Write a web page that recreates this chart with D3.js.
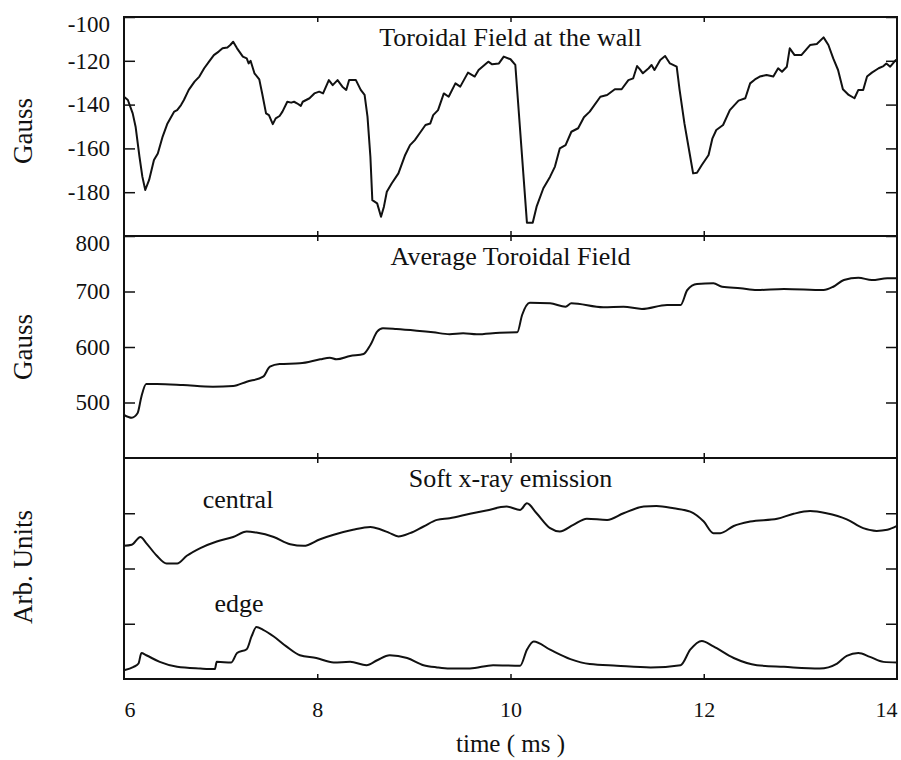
<!DOCTYPE html>
<html>
<head>
<meta charset="utf-8">
<script src="https://cdn.jsdelivr.net/npm/d3@7"></script>
<style>
  body { margin: 0; background: #fff; }
  svg text { font-family: "Liberation Serif", "DejaVu Serif", serif; fill: #111; }
  .frame { fill: none; stroke: #111; stroke-width: 2; }
  .trace { fill: none; stroke: #111; stroke-width: 2; stroke-linejoin: round; }
  .axis line { stroke: #111; stroke-width: 1.5; }
</style>
</head>
<body>
<svg class="chart"></svg>
<script>
var WIDTH = 901;
var HEIGHT = 760;

var LEFT = 124;
var RIGHT = 897;

// time axis (ms)
var timeTicks = [8, 10, 12];
var timeLabels = [6, 8, 10, 12, 14];

// Toroidal Field at the wall (Gauss)
var wallTime = [6.00, 6.04, 6.09, 6.12, 6.16, 6.19, 6.22, 6.26, 6.31, 6.35,
  6.40, 6.45, 6.52, 6.55, 6.59, 6.62, 6.67, 6.73, 6.78, 6.83,
  6.88, 6.93, 6.98, 7.02, 7.07, 7.10, 7.13, 7.17, 7.23, 7.27,
  7.29, 7.31, 7.35, 7.40, 7.43, 7.47, 7.50, 7.54, 7.57, 7.61,
  7.64, 7.69, 7.73, 7.76, 7.79, 7.83, 7.85, 7.92, 7.97, 8.02,
  8.06, 8.12, 8.16, 8.21, 8.26, 8.30, 8.33, 8.40, 8.45, 8.49,
  8.52, 8.55, 8.57, 8.62, 8.66, 8.69, 8.72, 8.77, 8.84, 8.91,
  8.96, 9.01, 9.06, 9.12, 9.17, 9.20, 9.25, 9.31, 9.36, 9.43,
  9.48, 9.56, 9.63, 9.67, 9.77, 9.81, 9.88, 9.93, 10.00, 10.05,
  10.17, 10.23, 10.27, 10.34, 10.41, 10.46, 10.51, 10.57, 10.63, 10.70,
  10.76, 10.82, 10.93, 11.00, 11.08, 11.15, 11.22, 11.27, 11.31, 11.34,
  11.37, 11.43, 11.46, 11.49, 11.55, 11.60, 11.65, 11.72, 11.75, 11.80,
  11.86, 11.89, 11.93, 11.98, 12.05, 12.09, 12.13, 12.20, 12.27, 12.36,
  12.43, 12.48, 12.53, 12.58, 12.65, 12.72, 12.77, 12.81, 12.86, 12.89,
  12.94, 13.01, 13.10, 13.17, 13.24, 13.29, 13.34, 13.39, 13.44, 13.50,
  13.56, 13.60, 13.65, 13.69, 13.74, 13.81, 13.86, 13.89, 13.93, 13.98,
  14.00];
var wallGauss = [-136.4, -137.9, -144, -150.1, -163.8, -172.9, -179, -174.4, -165.3, -162.3,
  -154.6, -148.6, -143.2, -142.5, -140.2, -137.9, -133.3, -129.5, -127.2, -123.4,
  -120.4, -117.4, -115.8, -114.3, -113.9, -112.8, -111.3, -114.3, -118.1, -118.9,
  -121.2, -120, -125.7, -128.5, -134.9, -144, -144.8, -148.9, -146.3, -145.2,
  -143.2, -138.7, -139.1, -138.7, -139.4, -140.6, -138.7, -137.1, -134.9, -134.1,
  -134.9, -128.8, -131.1, -128.8, -131.8, -133.3, -128.8, -128.8, -133.3, -135.6,
  -145.5, -163.8, -183.6, -185.1, -191.2, -186.6, -179.8, -176, -171.4, -163,
  -158.5, -156.2, -153.1, -149.3, -148.6, -144.8, -142.5, -134.9, -136.4, -130.3,
  -131.8, -125.4, -127.2, -124.2, -120.4, -121.6, -121.2, -118.1, -119.3, -121.9,
  -193.9, -193.9, -186.6, -178.2, -172.9, -168.3, -160, -158.5, -152.4, -150.8,
  -145.8, -143.2, -136.4, -135.6, -133, -133, -128.8, -128, -122.4, -123.9,
  -125.7, -123.4, -121.9, -124.2, -119.6, -117.8, -121.2, -122.7, -133.3, -148.6,
  -163.8, -171.4, -171.1, -167.6, -163, -155.4, -151.6, -149.3, -142.5, -138.2,
  -137.1, -130.3, -128.5, -127.2, -126.5, -127.2, -123.4, -125, -122.7, -114.3,
  -117.4, -117.4, -112.8, -112.3, -109.3, -112.8, -118.9, -124.2, -133, -135.6,
  -137.1, -133.3, -133.3, -127.2, -125.4, -123.4, -122.4, -121.2, -122.7, -120,
  -119.3];
var wallTicks = [-100, -120, -140, -160, -180];

// Average Toroidal Field (Gauss)
var avgTime = [6.00, 6.08, 6.14, 6.18, 6.23, 6.34, 6.61, 6.92, 7.13, 7.27, 7.44, 7.51, 7.61, 7.82, 8.03, 8.13, 8.20, 8.34, 8.48, 8.55,
  8.62, 8.68, 8.82, 9.03, 9.20, 9.37, 9.51, 9.65, 9.89, 10.07, 10.12, 10.20, 10.41, 10.57, 10.63, 10.96, 11.17, 11.36, 11.62, 11.76,
  11.83, 11.93, 12.10, 12.19, 12.38, 12.55, 12.83, 13.24, 13.34, 13.45, 13.60, 13.74, 13.90, 14.00];
var avgGauss = [477.5, 472.6, 480.5, 510.5, 533.3, 533.3, 531.5, 528.5, 529.7, 537.5, 546.5, 564.6, 569.4, 570.6, 577.8, 580.8, 577.8, 583.8, 587.4, 603.6,
  627.6, 633.7, 632.4, 629.4, 626.5, 623, 624.7, 622.9, 625.8, 626.5, 657.7, 679.8, 678.7, 672.6, 678.7, 671.5, 672.6, 668.5, 675.7, 675.7,
  702.7, 713.5, 714.7, 708.6, 705.8, 702.7, 704.5, 702.7, 708.6, 720.7, 724.9, 720.7, 723.8, 723.8];
var avgTicks = [800, 700, 600, 500];

// Soft x-ray emission (arb. units)
var centralTime = [6.00, 6.08, 6.17, 6.23, 6.34, 6.44, 6.55, 6.65, 6.79, 6.96, 7.13, 7.27, 7.37, 7.55, 7.72, 7.86, 8.03, 8.17, 8.37, 8.55,
  8.65, 8.74, 8.84, 8.96, 9.10, 9.24, 9.37, 9.58, 9.75, 9.96, 10.10, 10.17, 10.27, 10.41, 10.51, 10.65, 10.79, 11.00, 11.17, 11.38,
  11.51, 11.69, 11.86, 12.00, 12.10, 12.17, 12.31, 12.48, 12.76, 12.93, 13.10, 13.27, 13.48, 13.65, 13.79, 13.90, 14.00];
var centralValue = [2.41, 2.43, 2.57, 2.46, 2.23, 2.09, 2.09, 2.23, 2.37, 2.49, 2.57, 2.67, 2.65, 2.57, 2.44, 2.41, 2.53, 2.61, 2.70, 2.75,
  2.71, 2.65, 2.58, 2.64, 2.76, 2.88, 2.91, 2.99, 3.05, 3.12, 3.06, 3.18, 3.00, 2.73, 2.67, 2.79, 2.90, 2.88, 3.00, 3.12,
  3.13, 3.09, 3.03, 2.85, 2.64, 2.64, 2.77, 2.85, 2.90, 2.99, 3.04, 3.00, 2.89, 2.73, 2.68, 2.70, 2.77];
var edgeTime = [6.00, 6.10, 6.15, 6.18, 6.23, 6.37, 6.55, 6.79, 6.94, 6.96, 7.11, 7.17, 7.27, 7.32, 7.37, 7.44, 7.55, 7.68, 7.82, 7.99,
  8.17, 8.34, 8.51, 8.62, 8.75, 8.93, 9.10, 9.24, 9.37, 9.58, 9.82, 10.10, 10.17, 10.24, 10.41, 10.62, 10.82, 11.10, 11.45, 11.76,
  11.86, 11.98, 12.10, 12.31, 12.55, 12.83, 13.20, 13.38, 13.48, 13.60, 13.72, 13.86, 14.00];
var edgeValue = [0.16, 0.22, 0.28, 0.47, 0.43, 0.31, 0.22, 0.19, 0.18, 0.31, 0.30, 0.47, 0.54, 0.77, 0.94, 0.89, 0.77, 0.59, 0.43, 0.38,
  0.30, 0.31, 0.25, 0.34, 0.43, 0.38, 0.25, 0.21, 0.19, 0.19, 0.25, 0.24, 0.53, 0.68, 0.53, 0.36, 0.27, 0.24, 0.21, 0.25,
  0.53, 0.69, 0.59, 0.38, 0.25, 0.22, 0.19, 0.28, 0.42, 0.47, 0.40, 0.31, 0.30];
var xrayTicks = [1, 2, 3];

var plot = d3.select(".chart")
    .attr("width", WIDTH)
    .attr("height", HEIGHT);

var x = d3.scaleLinear().domain([6, 14]).range([LEFT, RIGHT]);

var panels = [
  { top: 17,  bottom: 236, domain: [-200, -100], ticks: wallTicks, labelled: true,
    title: "Toroidal Field at the wall", ylabel: "Gauss", labelY: 131, curve: d3.curveLinear,
    series: [[wallTime, wallGauss]] },
  { top: 236, bottom: 458, domain: [400, 800], ticks: avgTicks, labelled: true,
    title: "Average Toroidal Field", ylabel: "Gauss", labelY: 347, curve: d3.curveMonotoneX,
    series: [[avgTime, avgGauss]] },
  { top: 458, bottom: 679, domain: [0, 4], ticks: xrayTicks, labelled: false,
    title: "Soft x-ray emission", ylabel: "Arb. Units", labelY: 567, curve: d3.curveMonotoneX,
    series: [[centralTime, centralValue], [edgeTime, edgeValue]] }
];

function cleanAxis(g) {
  g.select(".domain").remove();
  g.attr("font-family", null).attr("font-size", null);
}

panels.forEach(function(p) {
  var y = d3.scaleLinear().domain(p.domain).range([p.bottom, p.top]);

  // left ticks (inward) with labels
  var left = plot.append("g")
      .attr("class", "axis")
      .attr("transform", "translate(" + LEFT + ",0)")
      .call(d3.axisLeft(y)
          .tickValues(p.ticks)
          .tickSizeInner(-11)
          .tickSizeOuter(0)
          .tickPadding(14)
          .tickFormat(function(d) { return p.labelled ? String(d) : ""; }));
  cleanAxis(left);
  left.selectAll("text")
      .style("font-size", "23px")
      .attr("fill", "#111")
      .attr("dy", function(d) { return d === p.domain[1] ? "0.62em" : "0.32em"; });

  // right ticks (inward)
  var right = plot.append("g")
      .attr("class", "axis")
      .attr("transform", "translate(" + RIGHT + ",0)")
      .call(d3.axisRight(y).tickValues(p.ticks).tickSizeInner(-11).tickSizeOuter(0).tickFormat(""));
  cleanAxis(right);

  // time ticks on top and bottom borders
  var topAx = plot.append("g")
      .attr("class", "axis")
      .attr("transform", "translate(0," + p.top + ")")
      .call(d3.axisTop(x).tickValues(timeTicks).tickSizeInner(-5).tickSizeOuter(0).tickFormat(""));
  cleanAxis(topAx);
  var botAx = plot.append("g")
      .attr("class", "axis")
      .attr("transform", "translate(0," + p.bottom + ")")
      .call(d3.axisBottom(x).tickValues(timeTicks).tickSizeInner(-5).tickSizeOuter(0).tickFormat(""));
  cleanAxis(botAx);

  // frame
  plot.append("rect")
      .attr("class", "frame")
      .attr("x", LEFT)
      .attr("y", p.top)
      .attr("width", RIGHT - LEFT)
      .attr("height", p.bottom - p.top);

  // traces
  var line = d3.line()
      .x(function(d) { return x(d[0]); })
      .y(function(d) { return y(d[1]); })
      .curve(p.curve);
  p.series.forEach(function(s) {
    plot.append("path")
        .attr("class", "trace")
        .attr("d", line(d3.zip(s[0], s[1])));
  });

  // panel title
  plot.append("text")
      .text(p.title)
      .attr("x", x(10))
      .attr("y", p.top + 29)
      .attr("text-anchor", "middle")
      .style("font-size", "26px");

  // y label
  plot.append("text")
      .text(p.ylabel)
      .attr("transform", "translate(32," + p.labelY + ") rotate(-90)")
      .attr("text-anchor", "middle")
      .style("font-size", "27px");
});

// series labels in the x-ray panel
plot.append("text")
    .text("central")
    .attr("x", x(7.18))
    .attr("y", 508)
    .attr("text-anchor", "middle")
    .style("font-size", "26px");

plot.append("text")
    .text("edge")
    .attr("x", x(7.19))
    .attr("y", 612)
    .attr("text-anchor", "middle")
    .style("font-size", "26px");

// time tick labels under the bottom panel
var xl = plot.append("g")
    .attr("class", "axis")
    .attr("transform", "translate(0,679)")
    .call(d3.axisBottom(x).tickValues(timeLabels).tickSize(0).tickPadding(22).tickFormat(function(d) { return String(d); }));
cleanAxis(xl);
xl.selectAll("text")
    .style("font-size", "22px")
    .attr("fill", "#111")
    .attr("text-anchor", function(d) { return d === 6 ? "start" : (d === 14 ? "end" : "middle"); });

plot.append("text")
    .text("time ( ms )")
    .attr("x", x(10))
    .attr("y", 752)
    .attr("text-anchor", "middle")
    .style("font-size", "25px");
</script>
</body>
</html>
